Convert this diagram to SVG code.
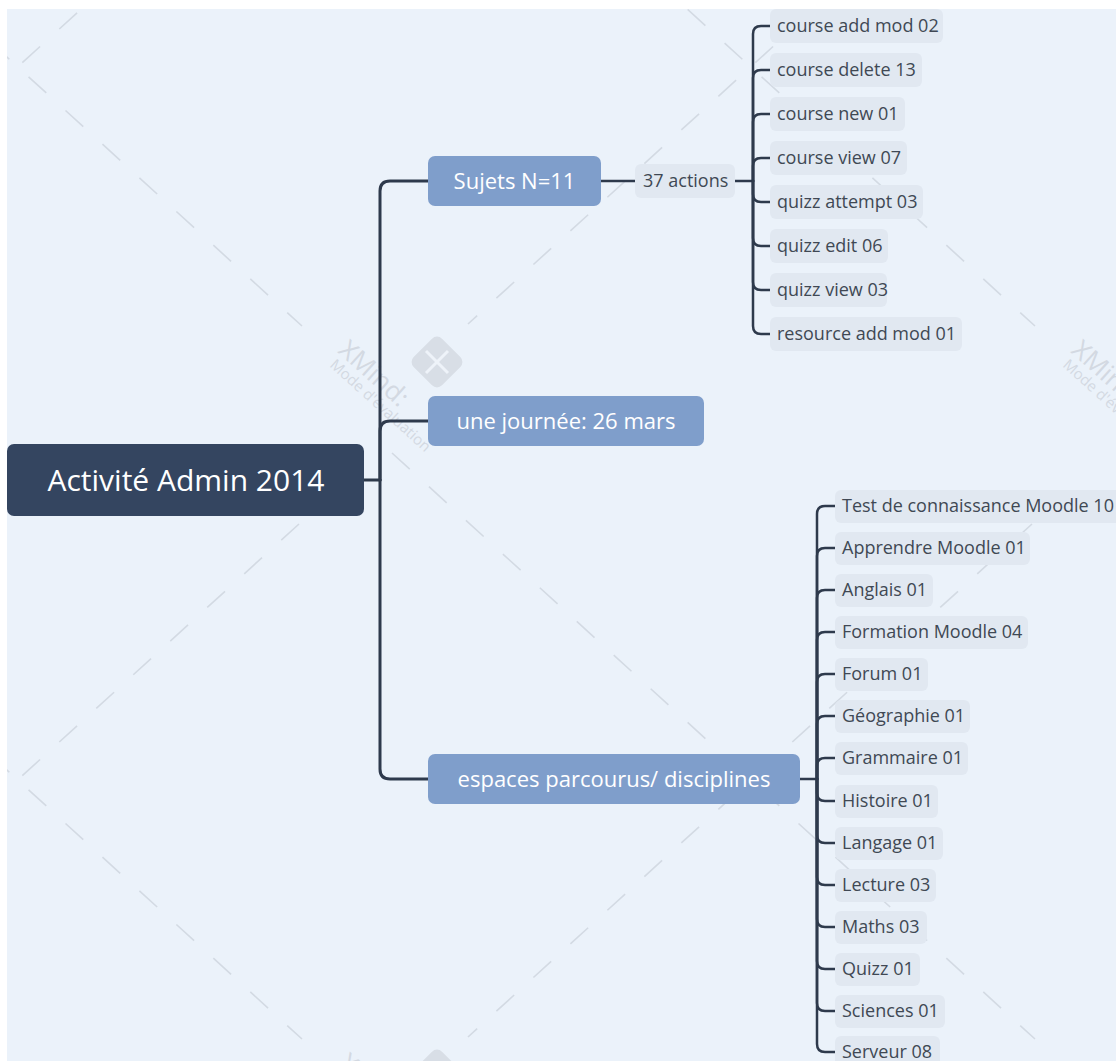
<svg xmlns="http://www.w3.org/2000/svg" width="1116" height="1061" viewBox="0 0 1116 1061">
<style>
.bg{fill:#ebf2fa}
.wm{fill:none;stroke:#d3dae3;stroke-width:1.6;stroke-dasharray:24 26}
.wmt{font-family:"Open Sans","Noto Sans","DejaVu Sans",sans-serif;fill:#d3d9e2}
.logo{fill:#d8dee6}
.logox{fill:none;stroke:#eef3f9;stroke-width:3}
.conn{fill:none;stroke:#2e3a4c;stroke-width:3;stroke-linecap:round}
.conn2{fill:none;stroke:#2e3a4c;stroke-width:2.5;stroke-linecap:round}
.root{fill:#344560}
.main{fill:#7f9ecb}
.leaf{fill:#e1e8f1}
.tr{font-family:"Open Sans","Noto Sans","DejaVu Sans",sans-serif;font-size:30px;fill:#ffffff;text-anchor:middle}
.tm{font-family:"Open Sans","Noto Sans","DejaVu Sans",sans-serif;font-size:22px;fill:#ffffff;text-anchor:middle}
.tl{font-family:"Open Sans","Noto Sans","DejaVu Sans",sans-serif;font-size:18px;fill:#404854}
</style>
<defs>
<clipPath id="bgclip"><rect x="7" y="9" width="1109" height="1052"/></clipPath>
</defs>
<rect x="0" y="0" width="1116" height="1061" fill="#ffffff"/>
<rect class="bg" x="7" y="9" width="1109" height="1052"/>

<g id="watermark" clip-path="url(#bgclip)">
<path class="wm" d="M-341 -260 L302 326"/>
<path class="wm" d="M392 -260 L1035 326"/>
<path class="wm" d="M299 -189 L-265 324"/>
<path class="wm" d="M1032 -189 L468 324"/>
<path class="wm" d="M-341 453 L302 1039"/>
<path class="wm" d="M392 453 L1035 1039"/>
<path class="wm" d="M299 524 L-265 1037"/>
<path class="wm" d="M1032 524 L468 1037"/>
<g class="wmt">
<text transform="translate(337,352) rotate(42)" font-size="26">XMind:</text>
<text transform="translate(329,366) rotate(42)" font-size="15">Mode d'évaluation</text>
<text transform="translate(1070,352) rotate(42)" font-size="26">XMind:</text>
<text transform="translate(1062,366) rotate(42)" font-size="15">Mode d'évaluation</text>
<text transform="translate(337,1065) rotate(42)" font-size="26">XMind:</text>
</g>
<rect class="logo" x="-20" y="-20" width="40" height="40" rx="7" transform="translate(437,362) rotate(45)"/>
<path class="logox" d="M426 351 L448 373 M448 351 L426 373"/>
<rect class="logo" x="-20" y="-20" width="40" height="40" rx="7" transform="translate(437,1075) rotate(45)"/>
</g>

<g id="connectors">
<path class="conn" d="M364 480 H380"/>
<path class="conn" d="M380 480 V191 Q380 181 390 181 H428"/>
<path class="conn" d="M380 480 V431 Q380 421 390 421 H428"/>
<path class="conn" d="M380 480 V769 Q380 779 390 779 H428"/>
<path class="conn2" d="M601 181 H635"/>
<path class="conn2" d="M735 181 H753"/>
<path class="conn2" d="M753 181 V34 Q753 26 761 26 H770"/>
<path class="conn2" d="M753 181 V78 Q753 70 761 70 H770"/>
<path class="conn2" d="M753 181 V122 Q753 114 761 114 H770"/>
<path class="conn2" d="M753 181 V166 Q753 158 761 158 H770"/>
<path class="conn2" d="M753 181 V194 Q753 202 761 202 H770"/>
<path class="conn2" d="M753 181 V238 Q753 246 761 246 H770"/>
<path class="conn2" d="M753 181 V282 Q753 290 761 290 H770"/>
<path class="conn2" d="M753 181 V326 Q753 334 761 334 H770"/>
<path class="conn2" d="M800 779 H817"/>
<path class="conn2" d="M817 779 V514 Q817 506 825 506 H835"/>
<path class="conn2" d="M817 779 V556 Q817 548 825 548 H835"/>
<path class="conn2" d="M817 779 V598 Q817 590 825 590 H835"/>
<path class="conn2" d="M817 779 V640 Q817 632 825 632 H835"/>
<path class="conn2" d="M817 779 V682 Q817 674 825 674 H835"/>
<path class="conn2" d="M817 779 V724 Q817 716 825 716 H835"/>
<path class="conn2" d="M817 779 V766 Q817 758 825 758 H835"/>
<path class="conn2" d="M817 779 V793 Q817 801 825 801 H835"/>
<path class="conn2" d="M817 779 V835 Q817 843 825 843 H835"/>
<path class="conn2" d="M817 779 V877 Q817 885 825 885 H835"/>
<path class="conn2" d="M817 779 V919 Q817 927 825 927 H835"/>
<path class="conn2" d="M817 779 V961 Q817 969 825 969 H835"/>
<path class="conn2" d="M817 779 V1003 Q817 1011 825 1011 H835"/>
<path class="conn2" d="M817 779 V1044 Q817 1052 825 1052 H835"/>
</g>

<g id="root"><rect class="root" x="7" y="444" width="357" height="72" rx="7"/><text class="tr" x="186" y="491">Activité Admin 2014</text></g>
<g id="sujets"><rect class="main" x="428" y="156" width="173" height="50" rx="7"/><text class="tm" x="514.5" y="189">Sujets N=11</text></g>
<g id="journee"><rect class="main" x="428" y="396" width="276" height="50" rx="7"/><text class="tm" x="566" y="429">une journée: 26 mars</text></g>
<g id="espaces"><rect class="main" x="428" y="754" width="372" height="50" rx="7"/><text class="tm" x="614" y="787">espaces parcourus/ disciplines</text></g>
<g id="actions"><rect class="leaf" x="635" y="164" width="100" height="34" rx="6"/><text class="tl" x="643" y="187.4">37 actions</text></g>

<g id="a1"><rect class="leaf" x="770" y="9" width="173" height="34" rx="6"/><text class="tl" x="777" y="32.4">course add mod 02</text></g>
<g id="a2"><rect class="leaf" x="770" y="53" width="152" height="34" rx="6"/><text class="tl" x="777" y="76.4">course delete 13</text></g>
<g id="a3"><rect class="leaf" x="770" y="97" width="135" height="34" rx="6"/><text class="tl" x="777" y="120.4">course new 01</text></g>
<g id="a4"><rect class="leaf" x="770" y="141" width="137" height="34" rx="6"/><text class="tl" x="777" y="164.4">course view 07</text></g>
<g id="a5"><rect class="leaf" x="770" y="185" width="153" height="34" rx="6"/><text class="tl" x="777" y="208.4">quizz attempt 03</text></g>
<g id="a6"><rect class="leaf" x="770" y="229" width="118" height="34" rx="6"/><text class="tl" x="777" y="252.4">quizz edit 06</text></g>
<g id="a7"><rect class="leaf" x="770" y="273" width="117" height="34" rx="6"/><text class="tl" x="777" y="296.4">quizz view 03</text></g>
<g id="a8"><rect class="leaf" x="770" y="317" width="192" height="34" rx="6"/><text class="tl" x="777" y="340.4">resource add mod 01</text></g>

<g id="d1"><rect class="leaf" x="835" y="490" width="290" height="33" rx="6"/><text class="tl" x="842" y="512.4">Test de connaissance Moodle 10</text></g>
<g id="d2"><rect class="leaf" x="835" y="532" width="195" height="33" rx="6"/><text class="tl" x="842" y="554.4">Apprendre Moodle 01</text></g>
<g id="d3"><rect class="leaf" x="835" y="574" width="98" height="33" rx="6"/><text class="tl" x="842" y="596.4">Anglais 01</text></g>
<g id="d4"><rect class="leaf" x="835" y="616" width="193" height="33" rx="6"/><text class="tl" x="842" y="638.4">Formation Moodle 04</text></g>
<g id="d5"><rect class="leaf" x="835" y="658" width="93" height="33" rx="6"/><text class="tl" x="842" y="680.4">Forum 01</text></g>
<g id="d6"><rect class="leaf" x="835" y="700" width="135" height="33" rx="6"/><text class="tl" x="842" y="722.4">Géographie 01</text></g>
<g id="d7"><rect class="leaf" x="835" y="742" width="133" height="33" rx="6"/><text class="tl" x="842" y="764.4">Grammaire 01</text></g>
<g id="d8"><rect class="leaf" x="835" y="785" width="103" height="33" rx="6"/><text class="tl" x="842" y="807.4">Histoire 01</text></g>
<g id="d9"><rect class="leaf" x="835" y="827" width="108" height="33" rx="6"/><text class="tl" x="842" y="849.4">Langage 01</text></g>
<g id="d10"><rect class="leaf" x="835" y="869" width="101" height="33" rx="6"/><text class="tl" x="842" y="891.4">Lecture 03</text></g>
<g id="d11"><rect class="leaf" x="835" y="911" width="92" height="33" rx="6"/><text class="tl" x="842" y="933.4">Maths 03</text></g>
<g id="d12"><rect class="leaf" x="835" y="953" width="85" height="33" rx="6"/><text class="tl" x="842" y="975.4">Quizz 01</text></g>
<g id="d13"><rect class="leaf" x="835" y="995" width="110" height="33" rx="6"/><text class="tl" x="842" y="1017.4">Sciences 01</text></g>
<g id="d14"><rect class="leaf" x="835" y="1036" width="105" height="33" rx="6"/><text class="tl" x="842" y="1058">Serveur 08</text></g>
</svg>
